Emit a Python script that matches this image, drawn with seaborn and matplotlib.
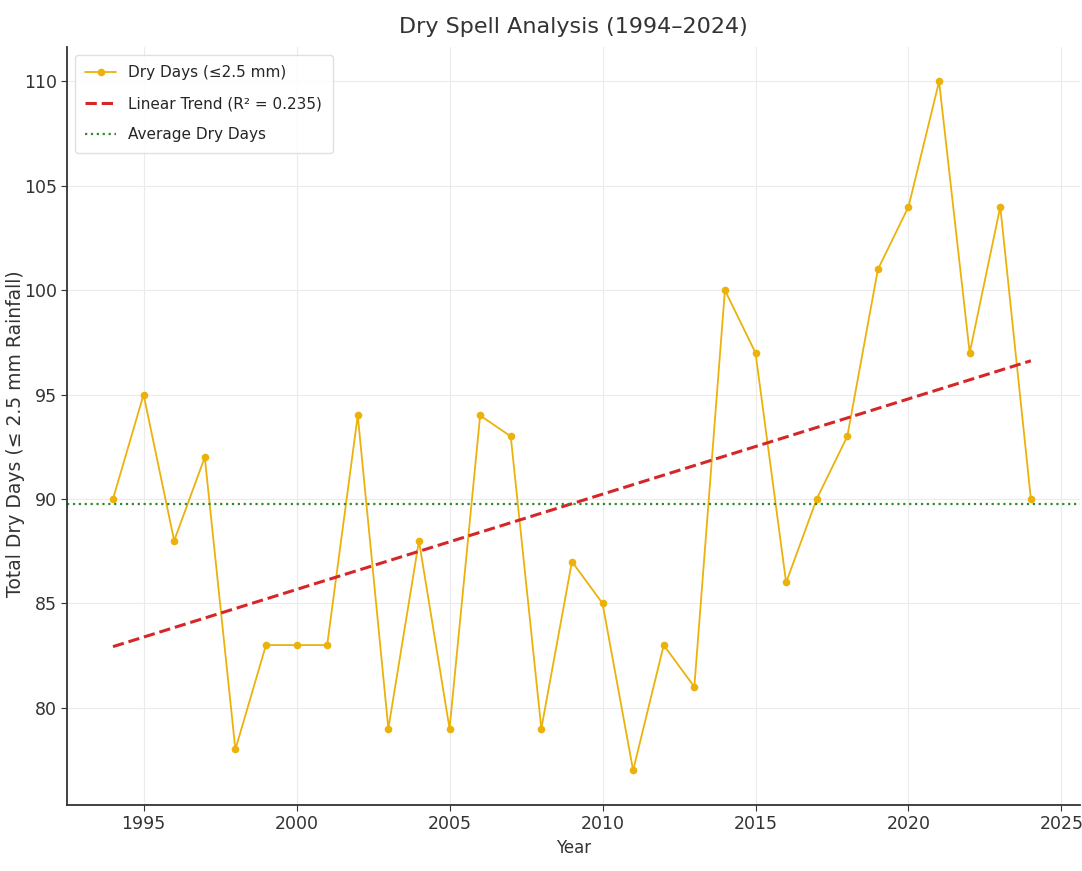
import numpy as np
import pandas as pd
import matplotlib
matplotlib.use("Agg")
import matplotlib.pyplot as plt
import seaborn as sns

# Annual count of days with rainfall at or below 2.5 mm
years = list(range(1994, 2025))
dry_days = [90, 95, 88, 92, 78, 83, 83, 83, 94, 79,
            88, 79, 94, 93, 79, 87, 85, 77, 83, 81,
            100, 97, 86, 90, 93, 101, 104, 110, 97, 104, 90]

df = pd.DataFrame({"Year": years, "DryDays": dry_days})

# Least-squares trend and its coefficient of determination
slope, intercept = np.polyfit(df["Year"], df["DryDays"], 1)
df["Trend"] = slope * df["Year"] + intercept
ss_res = ((df["DryDays"] - df["Trend"]) ** 2).sum()
ss_tot = ((df["DryDays"] - df["DryDays"].mean()) ** 2).sum()
r2 = 1 - ss_res / ss_tot
mean_days = df["DryDays"].mean()

sns.set_style("whitegrid", {"grid.color": "#ebebeb", "axes.edgecolor": "#333333",
                            "xtick.bottom": True, "ytick.left": True})
plt.rcParams["font.family"] = ["DejaVu Sans"]

fig = plt.figure(figsize=(10.82, 8.71), dpi=100)
ax = fig.add_axes([0.062, 0.076, 0.936, 0.870])

sns.lineplot(data=df, x="Year", y="DryDays", ax=ax, color="#EBB20C",
             marker="o", markersize=5.5, markeredgewidth=0, linewidth=1.3,
             label="Dry Days (≤2.5 mm)")
sns.lineplot(data=df, x="Year", y="Trend", ax=ax, color="#D62728",
             linestyle="--", linewidth=2.2, label=f"Linear Trend (R² = {r2:.3f})")
ax.axhline(mean_days, color="#2e8b2e", linestyle=":", linewidth=1.6,
           label="Average Dry Days")

ax.set_title("Dry Spell Analysis (1994–2024)", fontsize=16, color="#333333", pad=10)
ax.set_xlabel("Year", fontsize=12, color="#333333")
ax.set_ylabel("Total Dry Days (≤ 2.5 mm Rainfall)", fontsize=13.5, color="#333333")
ax.yaxis.set_label_coords(-0.0415, 0.49)
ax.set_xticks(range(1995, 2030, 5))
ax.tick_params(labelsize=12.5, colors="#333333", length=4)
ax.set_xlim(1992.5, 2025.6)
ax.set_ylim(75.35, 111.65)
sns.despine(ax=ax)
ax.spines["left"].set_linewidth(1.3)
ax.spines["bottom"].set_linewidth(1.3)

ax.legend(loc="upper left", fontsize=11, frameon=True, framealpha=0.9,
          edgecolor="#dddddd", handlelength=2, labelspacing=1.05, borderpad=0.7)

fig.savefig("out.png", dpi=100)
